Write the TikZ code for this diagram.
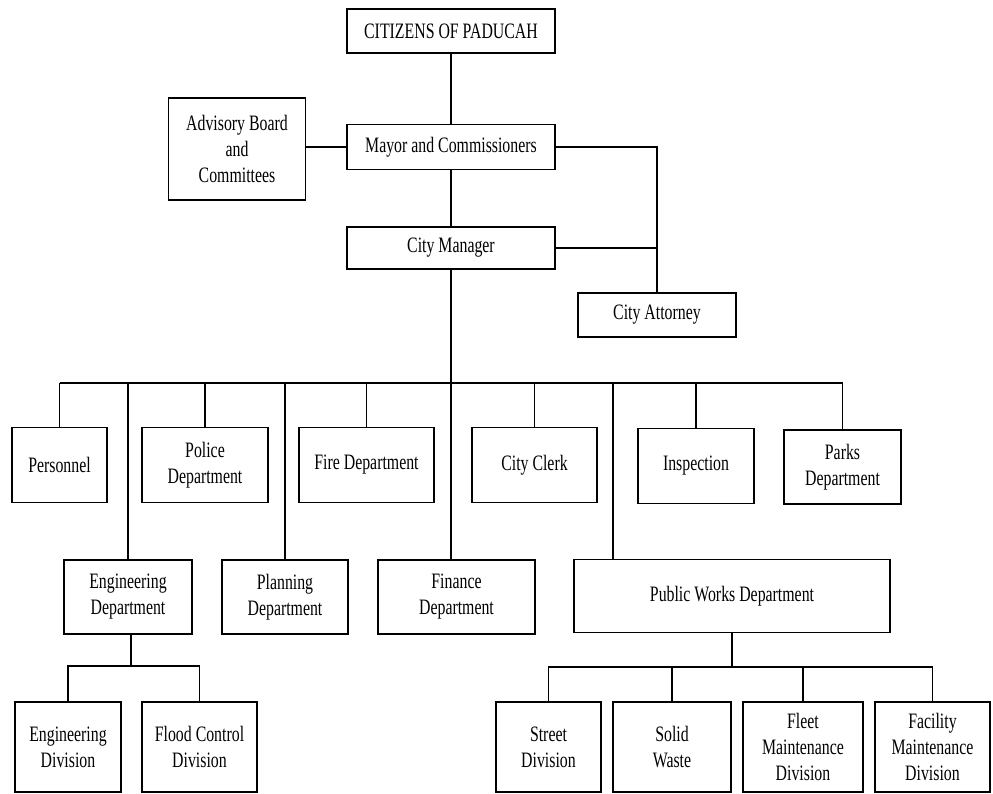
\documentclass[tikz,border=0pt]{standalone}
\usepackage{fontspec}
\setmainfont{Liberation Serif}[FakeStretch=0.72]
\usetikzlibrary{positioning,calc}

\begin{document}
\begin{tikzpicture}[x=1pt, y=-1pt,
        unit/.style={draw, line width=1.4pt, inner sep=0pt, outer sep=0pt, align=center,
            font=\fontsize{22}{26}\selectfont},
        link/.style={line width=1.3pt}]
    \useasboundingbox (0,0) rectangle (993,794);
    % top of the chart
    \node[unit, minimum width=208, minimum height=44] (citizens) at (451,31) {CITIZENS OF PADUCAH};
    \node[unit, minimum width=208, minimum height=45] (mayor) at (451,147) {Mayor and Commissioners};
    \node[unit, minimum width=137, minimum height=102] (advisory) at (237,149) {Advisory Board\\and\\Committees};
    \node[unit, minimum width=208, minimum height=42] (manager) at (451,248) {City Manager};
    \node[unit, minimum width=158, minimum height=44] (attorney) at (657,315) {City Attorney};
    % departments
    \node[unit, minimum width=95, minimum height=75] (personnel) at (59.5,465) {Personnel};
    \node[unit, minimum width=126, minimum height=75] (police) at (205,465) {Police\\Department};
    \node[unit, minimum width=135, minimum height=75] (fire) at (366.5,465) {Fire Department};
    \node[unit, minimum width=125, minimum height=75] (clerk) at (534.5,465) {City Clerk};
    \node[unit, minimum width=116, minimum height=75] (inspection) at (696,466) {Inspection};
    \node[unit, minimum width=117, minimum height=74] (parks) at (842.5,467) {Parks\\Department};
    \node[unit, minimum width=128, minimum height=74] (engdept) at (128,597) {Engineering\\Department};
    \node[unit, minimum width=126, minimum height=74] (planning) at (285,597) {Planning\\Department};
    \node[unit, minimum width=157, minimum height=74] (finance) at (456.5,597) {Finance\\Department};
    \node[unit, minimum width=316, minimum height=73] (publicworks) at (732,596) {Public Works Department};
    % divisions
    \node[unit, minimum width=106, minimum height=90] (engdiv) at (68,747) {Engineering\\Division};
    \node[unit, minimum width=115, minimum height=90] (flood) at (199.5,747) {Flood Control\\Division};
    \node[unit, minimum width=105, minimum height=90] (street) at (548.5,747) {Street\\Division};
    \node[unit, minimum width=118, minimum height=90] (solid) at (672,747) {Solid\\Waste};
    \node[unit, minimum width=120, minimum height=90] (fleet) at (803,747) {Fleet\\Maintenance\\Division};
    \node[unit, minimum width=115, minimum height=90] (facility) at (932.5,747) {Facility\\Maintenance\\Division};

    \coordinate (bus) at (451,383);
    \coordinate (pwtop) at (613,383);
    \coordinate (engbus) at (131,666);
    \coordinate (pwbus) at (732,667);

    % connectors
    \draw[link] (citizens) -- (mayor);
    \draw[link] (mayor) -- (manager);
    \draw[link] (mayor.west) -- (mayor.west -| advisory.east);
    \draw[link] (mayor.east) -| (attorney.north);
    \draw[link] (manager.east) -- (manager.east -| attorney.north);
    \draw[link] (manager.south) -- (manager.south |- finance.north);
    \draw[link] (personnel.north |- bus) -- (parks.north |- bus);
    \foreach \n in {personnel,police,fire,clerk,inspection,parks,engdept,planning}
        \draw[link] (\n.north) -- (\n.north |- bus);
    \draw[link] (pwtop) -- (pwtop |- publicworks.north);
    \draw[link] (engbus |- engdept.south) -- (engbus);
    \draw[link] (engdiv.north) -- (engdiv.north |- engbus) -- (flood.north |- engbus) -- (flood.north);
    \draw[link] (publicworks.south) -- (pwbus);
    \draw[link] (street.north) -- (street.north |- pwbus) -- (facility.north |- pwbus) -- (facility.north);
    \draw[link] (solid.north) -- (solid.north |- pwbus);
    \draw[link] (fleet.north) -- (fleet.north |- pwbus);
\end{tikzpicture}
\end{document}
